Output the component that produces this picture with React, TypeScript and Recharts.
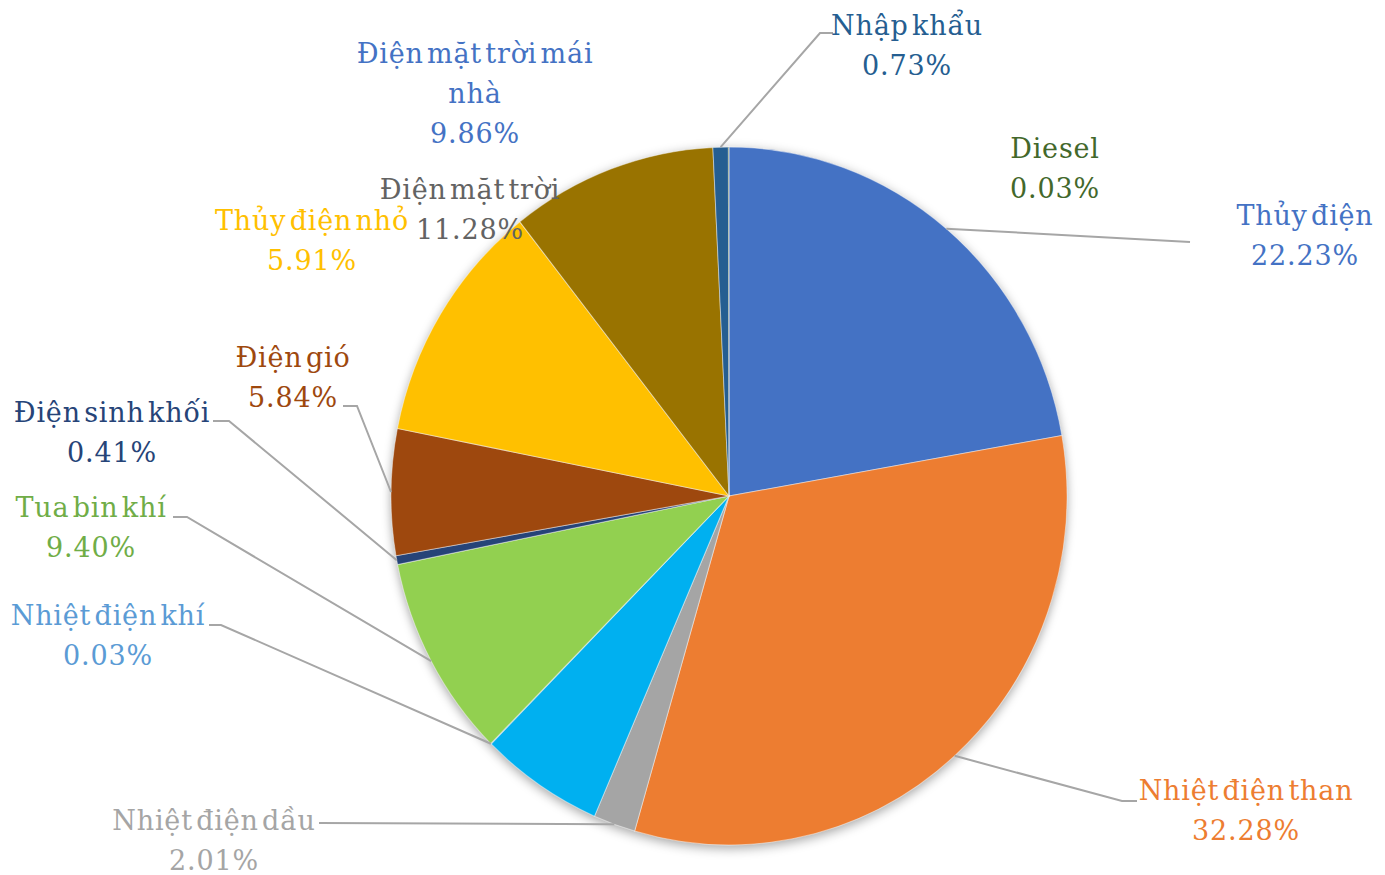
import React from 'react';
import { PieChart, Pie, Cell } from 'recharts';

const categories = [
  'Thủy điện',
  'Nhiệt điện than',
  'Nhiệt điện dầu',
  'Thủy điện nhỏ',
  'Nhiệt điện khí',
  'Tua bin khí',
  'Điện sinh khối',
  'Điện gió',
  'Điện mặt trời',
  'Điện mặt trời mái nhà',
  'Nhập khẩu',
  'Diesel',
];
const values = [22.23, 32.28, 2.01, 5.91, 0.03, 9.4, 0.41, 5.84, 11.28, 9.86, 0.73, 0.03];

const sliceColors = [
  '#4472C4', '#ED7D31', '#A5A5A5', '#00B0F0', '#5B9BD5', '#92D050',
  '#264478', '#9E480E', '#FFC000', '#997300', '#255E91', '#43682B',
];
const labelColors = [
  '#4472C4', '#ED7D31', '#A5A5A5', '#FFC000', '#5B9BD5', '#70AD47',
  '#264478', '#9E480E', '#636363', '#4472C4', '#255E91', '#43682B',
];

// label layout: name line split, center x, first baseline y, leader stub (outer end, inner end)
type Layout = { lines: string[]; x: number; y: number; stub: number[] | null };
const labelLayout: Layout[] = [
  { lines: ['Thủy điện'], x: 1305, y: 225, stub: [1190, 242, 1190, 242] },
  { lines: ['Nhiệt điện than'], x: 1246, y: 800, stub: [1137, 801, 1122, 801] },
  { lines: ['Nhiệt điện dầu'], x: 214, y: 830, stub: [319, 823, 319, 823] },
  { lines: ['Thủy điện nhỏ'], x: 312, y: 230, stub: null },
  { lines: ['Nhiệt điện khí'], x: 108, y: 625, stub: [209, 625, 221, 625] },
  { lines: ['Tua bin khí'], x: 91, y: 517, stub: [173, 517, 187, 517] },
  { lines: ['Điện sinh khối'], x: 112, y: 422, stub: [213, 421, 229, 421] },
  { lines: ['Điện gió'], x: 293, y: 367, stub: [343, 406, 357, 406] },
  { lines: ['Điện mặt trời'], x: 470, y: 199, stub: null },
  { lines: ['Điện mặt trời mái', 'nhà'], x: 475, y: 63, stub: null },
  { lines: ['Nhập khẩu'], x: 907, y: 35, stub: [833, 33, 820, 33] },
  { lines: ['Diesel'], x: 1055, y: 158, stub: null },
];

const W = 1385;
const H = 875;
const CX = 729;
const CY = 496;
const R = 338;
const Y_SCALE = 349 / 338;
const RAD = Math.PI / 180;
const LINE_H = 40;
const NO_MARGIN = { top: 0, right: 0, bottom: 0, left: 0 };

const data = categories.map((name, i) => ({ name, value: values[i] }));

const renderLabel = (props: any) => {
  const { cx, cy, midAngle, outerRadius, index } = props;
  const lay = labelLayout[index];
  const ax = cx + outerRadius * Math.cos(-midAngle * RAD);
  const ay = cy + outerRadius * Y_SCALE * Math.sin(-midAngle * RAD);
  const color = labelColors[index];
  const lines = [...lay.lines, `${values[index].toFixed(2)}%`];
  let pts = '';
  if (lay.stub) {
    pts = `${ax},${ay} ${lay.stub[2]},${lay.stub[3]} ${lay.stub[0]},${lay.stub[1]}`;
  }
  return (
    <g key={`lbl-${index}`}>
      {lay.stub && (
        <polyline points={pts} fill="none" stroke="#A6A6A6" strokeWidth={2} />
      )}
      <text
        x={lay.x}
        y={lay.y}
        textAnchor="middle"
        fill={color}
        fontFamily="'DejaVu Serif', serif"
        fontSize={27}
        letterSpacing={0.8}
        wordSpacing={-6}
      >
        {lines.map((ln, k) => (
          <tspan key={k} x={lay.x} y={lay.y + k * LINE_H}>
            {ln}
          </tspan>
        ))}
      </text>
    </g>
  );
};

export default function App() {
  return (
    <div style={{ position: 'absolute', left: 0, top: 0, width: W, height: H, background: '#fff' }}>
      <div
        style={{
          position: 'absolute',
          left: 0,
          top: 0,
          width: W,
          height: H,
          transform: `scaleY(${Y_SCALE})`,
          transformOrigin: `${CX}px ${CY}px`,
          filter: 'drop-shadow(0px 3px 5px rgba(0,0,0,0.35))',
        }}
      >
        <PieChart width={W} height={H} margin={NO_MARGIN}>
          <Pie
            data={data}
            dataKey="value"
            nameKey="name"
            cx={CX}
            cy={CY}
            outerRadius={R}
            startAngle={90}
            endAngle={-270}
            stroke="rgba(255,255,255,0.45)"
            strokeWidth={1}
            isAnimationActive={false}
            labelLine={false}
          >
            {data.map((d, i) => (
              <Cell key={d.name} fill={sliceColors[i]} />
            ))}
          </Pie>
        </PieChart>
      </div>
      <div style={{ position: 'absolute', left: 0, top: 0, width: W, height: H }}>
        <PieChart width={W} height={H} margin={NO_MARGIN}>
          <Pie
            data={data}
            dataKey="value"
            nameKey="name"
            cx={CX}
            cy={CY}
            outerRadius={R}
            startAngle={90}
            endAngle={-270}
            fill="none"
            stroke="none"
            isAnimationActive={false}
            labelLine={false}
            label={renderLabel}
          />
        </PieChart>
      </div>
    </div>
  );
}
